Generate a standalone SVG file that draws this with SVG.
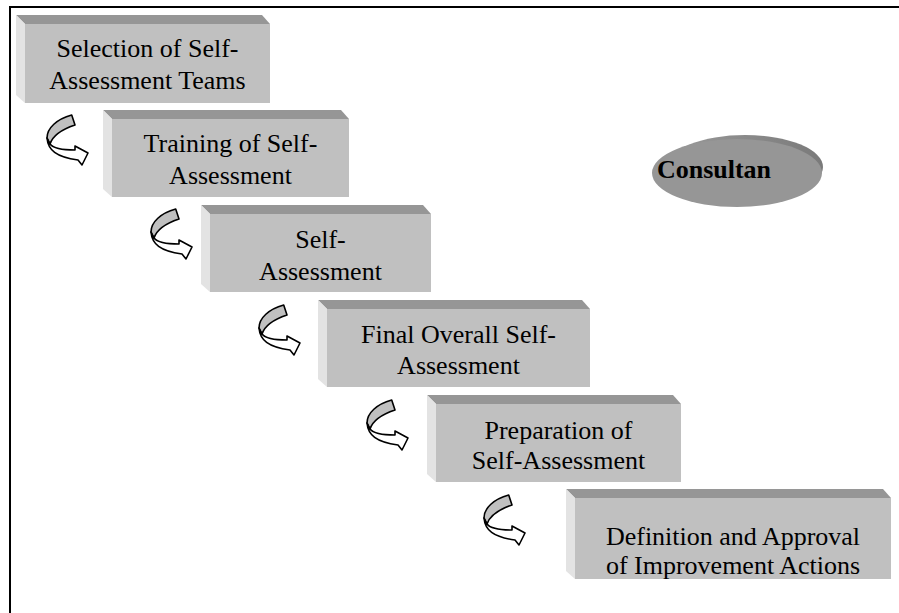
<svg xmlns="http://www.w3.org/2000/svg" xmlns:xlink="http://www.w3.org/1999/xlink" width="899" height="613" viewBox="0 0 899 613">
  <style>
    .top { fill: #969696; }
    .side { fill: #e3e3e3; }
    .face { fill: #c0c0c0; }
    text { font-family: 'Liberation Serif', 'DejaVu Serif', serif; font-size: 26px; fill: #000; text-anchor: middle; }
    .bold { font-weight: bold; }
    .ribbon { stroke: #000; stroke-width: 1.6; stroke-linejoin: round; }
  </style>
  <defs>
    <!-- curved 3D ribbon arrow, drawn at its first position -->
    <g id="curl">
      <path class="ribbon" fill="#c0c0c0" d="M71.7,115 L75,125 C63,129 53,135 50,144 L47,138 C47,128 57,119 71.7,115 Z"/>
      <path class="ribbon" fill="#ffffff" d="M47,138 C48,150 56,157 78,160 L82,165 L88,153 L75,146 L75,150 C62,150 53,148 50,144 Z"/>
    </g>
    <linearGradient id="rim" x1="0" y1="0" x2="1" y2="0">
      <stop offset="0" stop-color="#9a9a9a"/>
      <stop offset="1" stop-color="#7a7a7a"/>
    </linearGradient>
  </defs>

  <!-- frame -->
  <path d="M10,613 L10,7 L899,7" fill="none" stroke="#000" stroke-width="2"/>

  <g id="connectors">
    <use xlink:href="#curl"/>
    <use xlink:href="#curl" transform="translate(104,94)"/>
    <use xlink:href="#curl" transform="translate(212,190)"/>
    <use xlink:href="#curl" transform="translate(320,285)"/>
    <use xlink:href="#curl" transform="translate(437,380)"/>
  </g>

  <g id="step1" font-family="Liberation Serif, serif">
    <polygon class="top" points="16,15 262,15 270,24 25,24"/>
    <polygon class="side" points="16,15 25,24 25,103 16,95"/>
    <rect class="face" x="25" y="24" width="245" height="79"/>
    <text x="147.5" y="57">Selection of Self-</text>
    <text x="147.5" y="89">Assessment Teams</text>
  </g>

  <g id="step2">
    <polygon class="top" points="103,110 341,110 349,119 112,119"/>
    <polygon class="side" points="103,110 112,119 112,197 103,189"/>
    <rect class="face" x="112" y="119" width="237" height="78"/>
    <text x="230.5" y="152">Training of Self-</text>
    <text x="230.5" y="184">Assessment</text>
  </g>

  <g id="step3">
    <polygon class="top" points="201,205 423,205 431,214 210,214"/>
    <polygon class="side" points="201,205 210,214 210,292 201,284"/>
    <rect class="face" x="210" y="214" width="221" height="78"/>
    <text x="320.5" y="248">Self-</text>
    <text x="320.5" y="280">Assessment</text>
  </g>

  <g id="step4">
    <polygon class="top" points="318,300 582,300 590,309 327,309"/>
    <polygon class="side" points="318,300 327,309 327,387 318,379"/>
    <rect class="face" x="327" y="309" width="263" height="78"/>
    <text x="458.5" y="343">Final Overall Self-</text>
    <text x="458.5" y="374">Assessment</text>
  </g>

  <g id="step5">
    <polygon class="top" points="427,395 673,395 681,404 436,404"/>
    <polygon class="side" points="427,395 436,404 436,482 427,474"/>
    <rect class="face" x="436" y="404" width="245" height="78"/>
    <text x="558.5" y="439">Preparation of</text>
    <text x="558.5" y="469">Self-Assessment</text>
  </g>

  <g id="step6">
    <polygon class="top" points="566,489 883,489 891,498 575,498"/>
    <polygon class="side" points="566,489 575,498 575,579 566,571"/>
    <rect class="face" x="575" y="498" width="316" height="81"/>
    <text x="733" y="545">Definition and Approval</text>
    <text x="733" y="574">of Improvement Actions</text>
  </g>

  <g id="consultant">
    <ellipse cx="745" cy="167" rx="78" ry="32" fill="url(#rim)"/>
    <ellipse cx="737" cy="173" rx="85" ry="34" fill="#969696"/>
    <text class="bold" x="714" y="178">Consultan</text>
  </g>
</svg>
